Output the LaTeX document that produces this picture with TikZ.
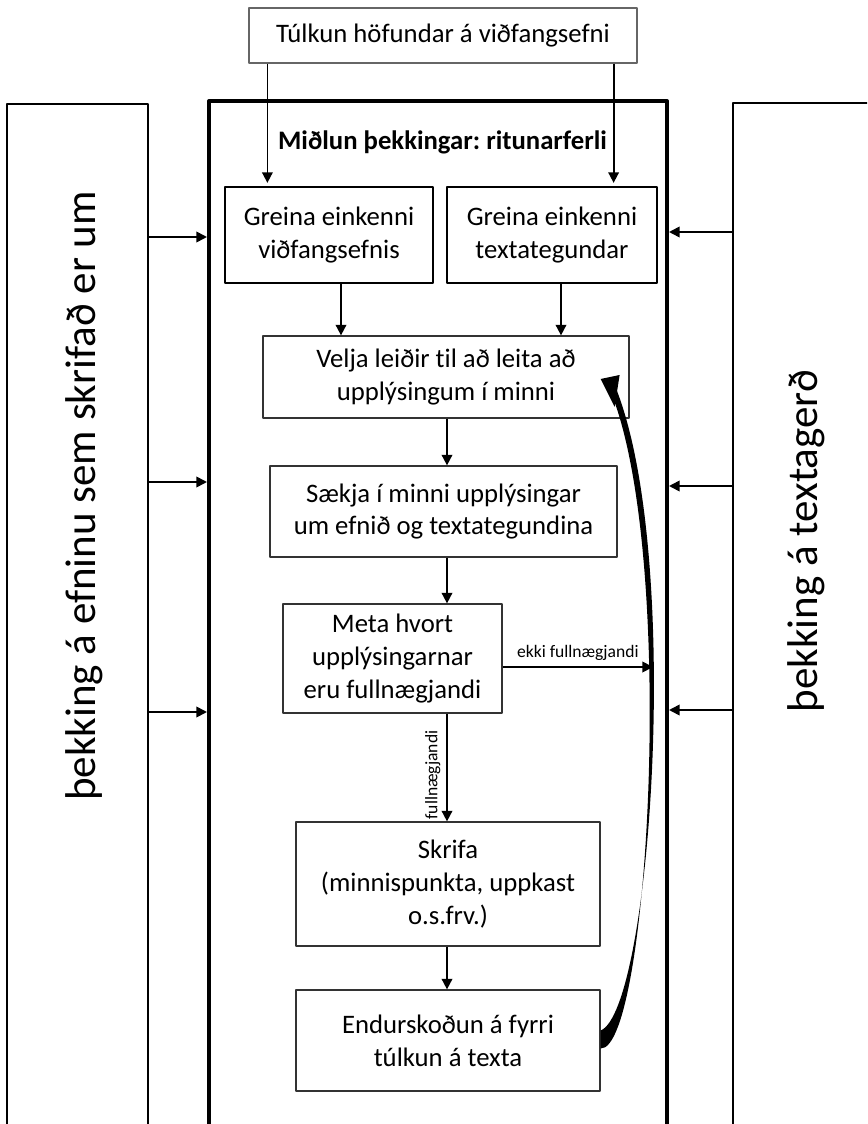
\documentclass[tikz,border=0pt]{standalone}
\usepackage{fontspec}
\setmainfont{Carlito}[Ligatures=NoCommon]
\frenchspacing
\usetikzlibrary{arrows.meta,calc}
\tikzset{
	boks/.style 2 args={draw=black!80, line width=0.7pt, align=center, inner sep=0pt,
		minimum width=#1*0.02cm, minimum height=#2*0.02cm, font=\fontsize{15.2}{18.7}\selectfont},
	ramme/.style 2 args={draw, inner sep=0pt, minimum width=#1*0.02cm, minimum height=#2*0.02cm},
	hlidartexti/.style={rotate=90, inner sep=0pt, font=\fontsize{24.5}{29}\selectfont},
	merki/.style={font=\fontsize{10}{12}\selectfont},
	pil/.style={->, line width=1pt}
}
\begin{document}
\begin{tikzpicture}[x=0.02cm, y=-0.02cm, >={Triangle[length=6pt,width=6pt]}, line join=round]
	\useasboundingbox (0,0) rectangle (867,1124);
	\clip (0,0) rectangle (867,1124);
	% rammar
	\node[ramme={141}{1046}, line width=1.5pt] (venstri) at (77.5,627) {};
	\node[ramme={458}{1049}, line width=2.3pt] (midja) at (438,625.5) {};
	\node[ramme={167}{1047}, line width=1.5pt] (haegri) at (816.5,626.5) {};
	\node[hlidartexti] (venstritexti) at (84,496) {þekking á efninu sem skrifað er um};
	\node[hlidartexti] (haegritexti) at (806,541) {þekking á textagerð};
	\node[font=\fontsize{15.2}{18.7}\selectfont\bfseries, anchor=base] (titill) at (442.5,150) {Miðlun þekkingar: ritunarferli};
	% kassar
	\node[boks={388}{55}, draw=black!60] (tulkun) at (443,35.5) {Túlkun höfundar á viðfangsefni};
	\node[boks={208}{96}, draw=black] (g1) at (329,235) {Greina einkenni\\viðfangsefnis};
	\node[boks={210}{96}, draw=black] (g2) at (552,235) {Greina einkenni\\textategundar};
	\node[boks={366}{82}] (velja) at (446,377) {Velja leiðir til að leita að\\upplýsingum í minni};
	\node[boks={347}{91}] (saekja) at (443.5,511.5) {Sækja í minni upplýsingar\\um efnið og textategundina};
	\node[boks={219}{109}] (meta) at (392.5,658.5) {Meta hvort\\upplýsingarnar\\eru fullnægjandi};
	\node[boks={304}{124}] (skrifa) at (448,884) {Skrifa\\(minnispunkta, uppkast\\o.s.frv.)};
	\node[boks={304}{101}] (endur) at (448,1040.5) {Endurskoðun á fyrri\\túlkun á texta};
	% pilar
	\coordinate (p1) at ($(tulkun.south west)+(19,0)$);
	\coordinate (p2) at ($(tulkun.south east)+(-24,0)$);
	\draw[pil, shorten >=2pt] (p1) -- (p1 |- g1.north);
	\draw[pil, shorten >=2pt] (p2) -- (p2 |- g2.north);
	\draw[pil] ($(g1.south)+(12,0)$) coordinate (p3) -- (p3 |- velja.north);
	\draw[pil] ($(g2.south)+(9,0)$) coordinate (p4) -- (p4 |- velja.north);
	\foreach \y in {237,482,712} \draw[pil] (venstri.east |- 0,\y) -- (midja.west |- 0,\y);
	\foreach \y in {232,486,710} \draw[pil] (haegri.west |- 0,\y) -- (midja.east |- 0,\y);
	\coordinate (midlina) at (447,0);
	\draw[pil] (velja.south -| midlina) -- (saekja.north -| midlina);
	\draw[pil] (saekja.south -| midlina) -- (meta.north -| midlina);
	\draw[pil] (meta.south -| midlina) -- node[merki, pos=0.57, rotate=90, above] (fulltexti) {fullnægjandi} (skrifa.north -| midlina);
	\draw[pil] (skrifa.south -| midlina) -- (endur.north -| midlina);
	\coordinate (ekkienda) at (653,667);
	\draw[pil] (meta.east |- ekkienda) -- node[merki, above] (ekkitexti) {ekki fullnægjandi} (ekkienda);
	% boginn pill til baka
	\fill ($(endur.east)+(0,-10)$) .. controls +(50,-20) and +(66,170) .. ($(velja.east)+(-13,13)$)
		-- ($(velja.east)+(-18,17)$) .. controls +(65,166) and +(48,2) .. ($(endur.east)+(0,8)$) -- cycle;
	\fill ($(velja.east)+(-29,2)$) -- ($(velja.east)+(-10,-2)$) -- ($(velja.east)+(-15,30)$) -- cycle;
\end{tikzpicture}
\end{document}
